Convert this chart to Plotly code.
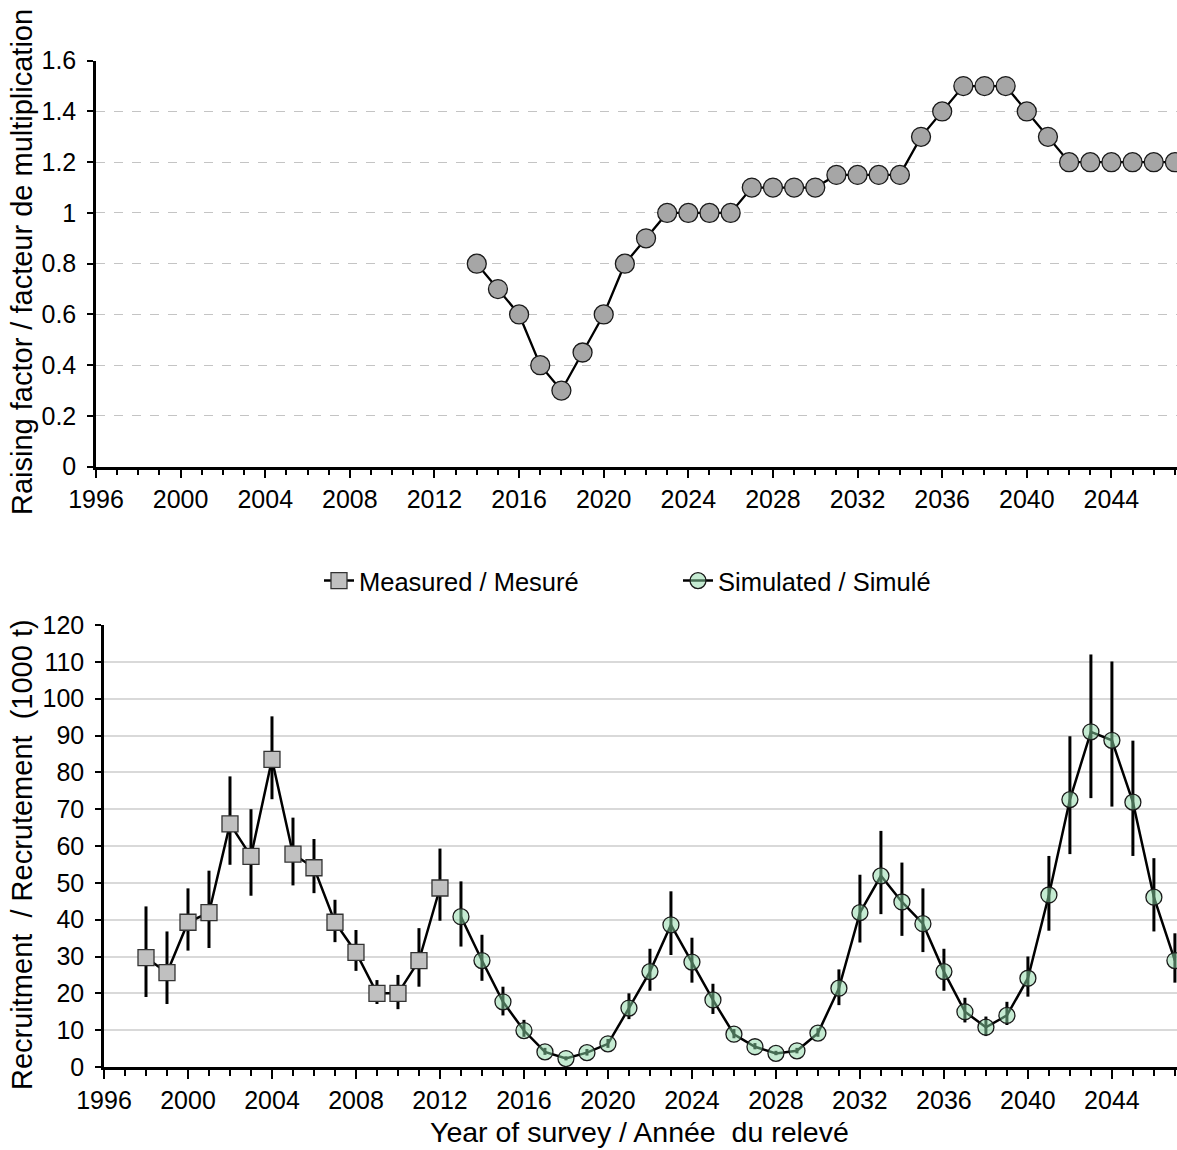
import plotly.graph_objects as go

# ---------------- data ----------------
rf_years = list(range(2014, 2048))
rf_values = [0.8, 0.7, 0.6, 0.4, 0.3, 0.45, 0.6, 0.8, 0.9,
             1.0, 1.0, 1.0, 1.0,
             1.1, 1.1, 1.1, 1.1,
             1.15, 1.15, 1.15, 1.15,
             1.3, 1.4, 1.5, 1.5, 1.5, 1.4, 1.3,
             1.2, 1.2, 1.2, 1.2, 1.2, 1.2]

meas_years = list(range(1998, 2013))
meas_values = [29.7, 25.6, 39.3, 41.9, 66.0, 57.2, 83.5, 57.8, 54.1, 39.3, 31.1, 20.0, 20.0, 28.9, 48.6]
meas_high = [43.6, 36.8, 48.5, 53.3, 78.9, 70.0, 95.2, 67.7, 61.9, 45.4, 37.2, 23.6, 25.0, 37.7, 59.3]
meas_low = [19.0, 17.1, 31.6, 32.3, 54.9, 46.5, 72.7, 49.3, 47.2, 33.9, 26.1, 17.1, 15.7, 21.8, 39.7]

sim_years = list(range(2013, 2048))
sim_values = [40.8, 28.9, 17.7, 9.9, 4.1, 2.3, 3.9, 6.3, 16.0, 25.9,
              38.6, 28.5, 18.2, 8.9, 5.5, 3.7, 4.4, 9.2, 21.4, 41.9,
              51.9, 44.8, 38.9, 25.9, 15.0, 10.8, 14.0, 24.1, 46.7, 72.6,
              91.0, 88.7, 71.9, 46.1, 28.9]
sim_high = [50.4, 35.9, 21.8, 12.8, 5.2, 2.9, 4.9, 7.6, 20.0, 32.1,
            47.7, 35.1, 22.6, 10.3, 6.5, 4.4, 5.2, 10.5, 26.5, 52.2,
            64.1, 55.5, 48.5, 32.1, 18.8, 13.7, 17.7, 30.0, 57.3, 89.8,
            112.0, 110.1, 88.6, 56.7, 36.3]
sim_low = [32.7, 23.4, 14.0, 8.2, 3.3, 1.8, 3.1, 5.2, 13.0, 20.7,
           30.4, 22.9, 14.4, 7.8, 4.8, 3.2, 3.7, 8.2, 16.8, 33.8,
           41.5, 35.6, 31.2, 20.7, 12.1, 8.4, 11.4, 19.1, 37.0, 57.8,
           73.0, 70.7, 57.3, 36.8, 22.9]

top_ytitle = "Raising factor / facteur de multiplication"
bot_ytitle = "Recruitment  / Recrutement  (1000 t)"
bot_xtitle = "Year of survey / Année  du relevé"
meas_name = "Measured / Mesuré"
sim_name = "Simulated / Simulé"

# ---------------- figure ----------------
W, H = 1177, 1150
FONT = "Liberation Sans, Arial, sans-serif"

def px_x(p):
    return p / W

def px_y(p):
    return 1 - p / H

fig = go.Figure()

fig.add_trace(go.Scatter(
    x=rf_years, y=rf_values, mode="lines+markers",
    line=dict(color="black", width=2.3),
    marker=dict(symbol="circle", size=19, color="#a6a6a6",
                line=dict(color="#1a1a1a", width=1.3)),
    xaxis="x", yaxis="y", showlegend=False,
))

err_m_plus = [h - v for h, v in zip(meas_high, meas_values)]
err_m_minus = [v - l for v, l in zip(meas_values, meas_low)]
err_s_plus = [h - v for h, v in zip(sim_high, sim_values)]
err_s_minus = [v - l for v, l in zip(sim_values, sim_low)]

fig.add_trace(go.Scatter(
    x=meas_years, y=meas_values, mode="lines+markers", name=meas_name,
    line=dict(color="black", width=2.5),
    marker=dict(symbol="square", size=16, color="#c0c0c0",
                line=dict(color="#333333", width=1.3)),
    error_y=dict(type="data", symmetric=False, array=err_m_plus,
                 arrayminus=err_m_minus, color="black", thickness=3, width=0),
    xaxis="x2", yaxis="y2",
))

fig.add_trace(go.Scatter(
    x=sim_years, y=sim_values, mode="lines+markers", name=sim_name,
    line=dict(color="black", width=2.5),
    marker=dict(symbol="circle", size=16, color="rgba(140,215,165,0.5)",
                line=dict(color="#1a1a1a", width=1.3)),
    error_y=dict(type="data", symmetric=False, array=err_s_plus,
                 arrayminus=err_s_minus, color="black", thickness=3, width=0),
    xaxis="x2", yaxis="y2",
))

xtickfont = dict(family=FONT, size=25, color="black")
ytickfont = dict(family=FONT, size=25, color="black")

xcommon = dict(
    range=[1996, 2047.1], tick0=1996, dtick=4, showgrid=False,
    showline=True, linecolor="black", linewidth=2.5,
    ticks="outside", ticklen=9, tickwidth=2, tickcolor="black",
    minor=dict(dtick=1, ticks="outside", ticklen=6, tickwidth=2, tickcolor="black"),
    tickfont=xtickfont, zeroline=False, fixedrange=True, automargin=False,
)

ycommon = dict(
    showline=True, linecolor="black", linewidth=2.5,
    ticks="outside", ticklen=6, tickwidth=2, tickcolor="black",
    zeroline=False, tickfont=ytickfont, automargin=False,
    ticklabelstandoff=6, fixedrange=True,
)

fig.update_layout(
    width=W, height=H,
    template="none",
    margin=dict(l=0, r=0, t=0, b=0, autoexpand=False),
    paper_bgcolor="white", plot_bgcolor="white",
    font=dict(family=FONT, size=24, color="black"),
    xaxis=dict(domain=[px_x(96), 1], anchor="y", **xcommon),
    yaxis=dict(domain=[px_y(466.7), px_y(60.7)], anchor="x",
               range=[0, 1.6], dtick=0.2, tick0=0,
               showgrid=True, gridcolor="#c4c4c4", gridwidth=1, griddash="dash",
               **ycommon),
    xaxis2=dict(domain=[px_x(104), 1], anchor="y2", **xcommon),
    yaxis2=dict(domain=[px_y(1067), px_y(625)], anchor="x2",
                range=[0, 120], dtick=10, tick0=0,
                showgrid=True, gridcolor="#d9d9d9", gridwidth=1.5,
                **ycommon),
    legend=dict(orientation="h", x=px_x(319), xanchor="left",
                y=px_y(581), yanchor="middle",
                font=dict(family=FONT, size=25.5, color="black"),
                entrywidth=314, entrywidthmode="pixels",
                bgcolor="rgba(0,0,0,0)", itemclick=False, itemdoubleclick=False),
    annotations=[
        dict(text=top_ytitle, x=px_x(22), y=px_y(262), xref="paper", yref="paper",
             textangle=-90, showarrow=False, font=dict(family=FONT, size=29, color="black"),
             xanchor="center", yanchor="middle"),
        dict(text=bot_ytitle, x=px_x(22), y=px_y(855), xref="paper", yref="paper",
             textangle=-90, showarrow=False, font=dict(family=FONT, size=29, color="black"),
             xanchor="center", yanchor="middle"),
        dict(text=bot_xtitle, x=px_x(639), y=px_y(1132), xref="paper", yref="paper",
             showarrow=False, font=dict(family=FONT, size=28.5, color="black"),
             xanchor="center", yanchor="middle"),
    ],
)

fig.write_html("out.html", config={"displayModeBar": False})
